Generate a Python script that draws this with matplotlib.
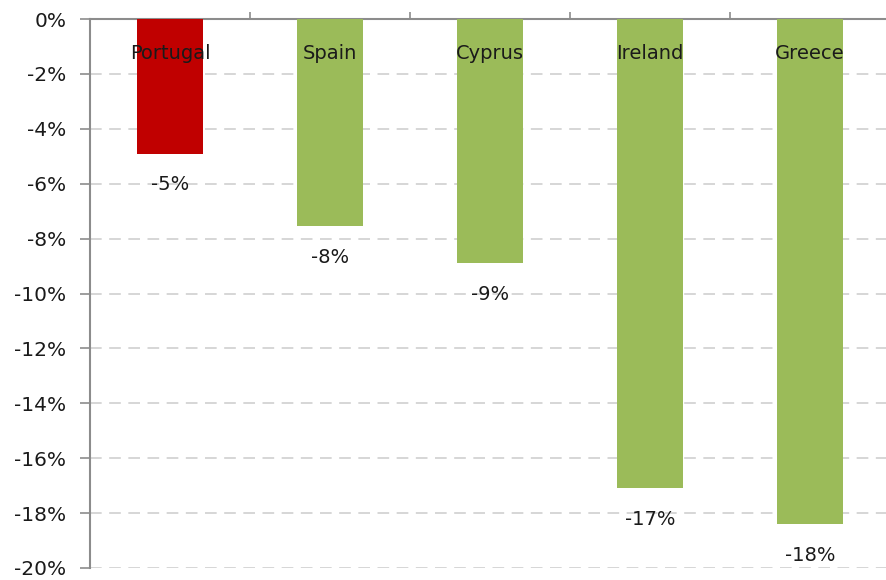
import matplotlib.pyplot as plt
from matplotlib.ticker import FuncFormatter

countries = ["Portugal", "Spain", "Cyprus", "Ireland", "Greece"]
change_pct = [-4.9, -7.55, -8.9, -17.1, -18.4]
bar_colors = ["#C00000", "#9BBB59", "#9BBB59", "#9BBB59", "#9BBB59"]
y_ticks = [0, -2, -4, -6, -8, -10, -12, -14, -16, -18, -20]

plt.rcParams["font.family"] = ["DejaVu Sans"]

fig = plt.figure(figsize=(8.86, 5.8), dpi=100)
ax = fig.add_axes([0.1016, 0.0207, 0.9029, 0.9465])

x = range(len(countries))
ax.bar(x, change_pct, width=0.41, color=bar_colors, zorder=3)

for i, (name, val) in enumerate(zip(countries, change_pct)):
    ax.text(i, -1.25, name, ha="center", va="center", fontsize=14,
            color="#1a1a1a", zorder=4)
    ax.annotate(f"{val:.0f}%", (i, val), xytext=(0, -31),
                textcoords="offset pixels",
                ha="center", va="center", fontsize=14, color="#1a1a1a")

ax.set_xlim(-0.5, 4.5)
ax.set_ylim(-20, 0)
ax.set_yticks(y_ticks)
ax.yaxis.set_major_formatter(FuncFormatter(lambda v, _: f"{v:.0f}%"))
ax.tick_params(axis="y", length=7, width=1.2, color="#8c8c8c",
               labelsize=14.5, labelcolor="#1a1a1a", pad=10)

# category separators along the top axis
ax.xaxis.tick_top()
ax.set_xticks([0.5, 1.5, 2.5, 3.5])
ax.set_xticklabels([])
ax.tick_params(axis="x", length=5, width=1.2, color="#8c8c8c")

ax.yaxis.grid(True, color="#d0d0d0", linestyle=(0, (7, 4.5)), linewidth=1.2,
              zorder=0)
for side in ("right", "bottom"):
    ax.spines[side].set_visible(False)
for side in ("left", "top"):
    ax.spines[side].set_color("#8c8c8c")
    ax.spines[side].set_linewidth(1.5)

fig.savefig("out.png", dpi=100)
